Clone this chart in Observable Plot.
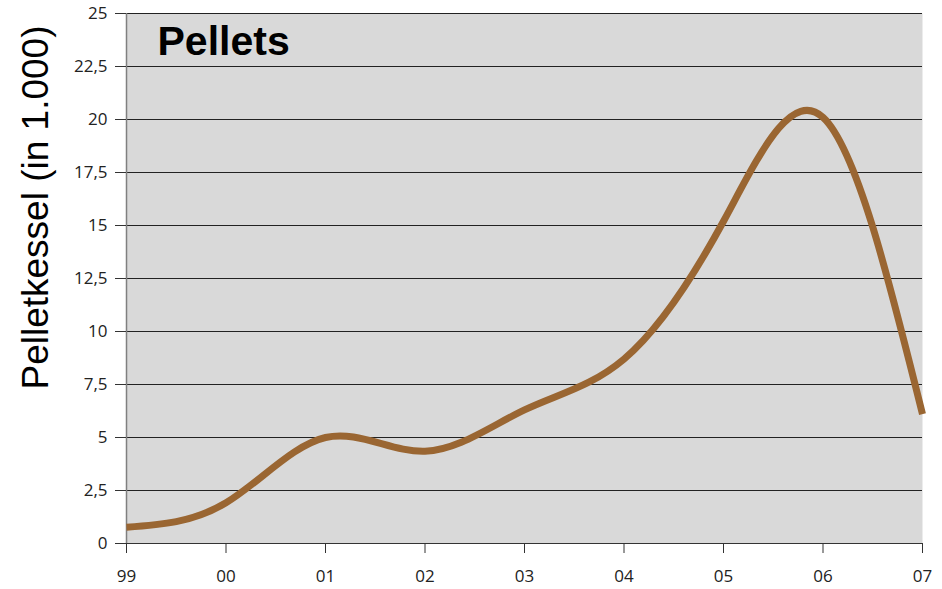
<!DOCTYPE html>
<html>
<head>
<meta charset="utf-8">
<script src="https://cdn.jsdelivr.net/npm/d3@7"></script>
<script src="https://cdn.jsdelivr.net/npm/@observablehq/plot@0.6"></script>
<style>
  html, body { margin: 0; padding: 0; background: #fff; }
  #chart svg { display: block; }
</style>
</head>
<body>
<div id="chart"></div>
<script>
const yearLabels = ["99", "00", "01", "02", "03", "04", "05", "06", "07"];
const values = [0.77, 1.92, 5.0, 4.35, 6.3, 8.7, 15.2, 20.1, 6.1];
const yTicks = [0, 2.5, 5, 7.5, 10, 12.5, 15, 17.5, 20, 22.5, 25];
const title = "Pellets";
const yLabel = "Pelletkessel (in 1.000)";

const data = values.map((v, i) => ({i, v}));
const fmt = v => String(v).replace(".", ",");

const chart = Plot.plot({
  width: 942,
  height: 589,
  marginLeft: 126,
  marginRight: 20,
  marginTop: 13,
  marginBottom: 46,
  style: {fontFamily: "'Open Sans', sans-serif", fontSize: "17px", color: "#222", background: "#fff"},
  x: {domain: [0, yearLabels.length - 1], ticks: d3.range(yearLabels.length), tickFormat: i => yearLabels[i], label: null},
  y: {domain: [0, 25], ticks: yTicks, tickFormat: fmt, label: null},
  marks: [
    Plot.frame({fill: "#d9d9d9", stroke: null}),
    Plot.gridY(yTicks, {stroke: "#222", strokeOpacity: 1, strokeWidth: 1}),
    Plot.ruleX([0], {stroke: "#808080", strokeWidth: 1.5}),
    Plot.ruleY([0], {stroke: "#333", strokeWidth: 1.2}),
    Plot.axisY(yTicks, {tickSize: 11, tickPadding: 8, tickFormat: fmt, stroke: "#333", fill: "#222", fontSize: 17}),
    Plot.axisX(d3.range(yearLabels.length), {tickSize: 10, tickPadding: 16, tickFormat: i => yearLabels[i], stroke: "#333", fill: "#222", fontSize: 17}),
    Plot.line(data, {x: "i", y: "v", curve: "natural", stroke: "#9a6632", strokeWidth: 7, strokeLinecap: "butt", strokeLinejoin: "round"}),
    Plot.text([title], {frameAnchor: "top-left", dx: 31, dy: 12, lineAnchor: "top", textAnchor: "start", fontSize: 41, fontWeight: "bold", fontFamily: "'Liberation Sans', Arial, sans-serif", fill: "#000"}),
    Plot.text([yLabel], {frameAnchor: "top-left", dx: -90, dy: 194, rotate: -90, textAnchor: "middle", lineAnchor: "middle", fontSize: 37, fontFamily: "'Liberation Sans', Arial, sans-serif", fill: "#000"})
  ]
});
document.getElementById("chart").append(chart);
</script>
</body>
</html>
